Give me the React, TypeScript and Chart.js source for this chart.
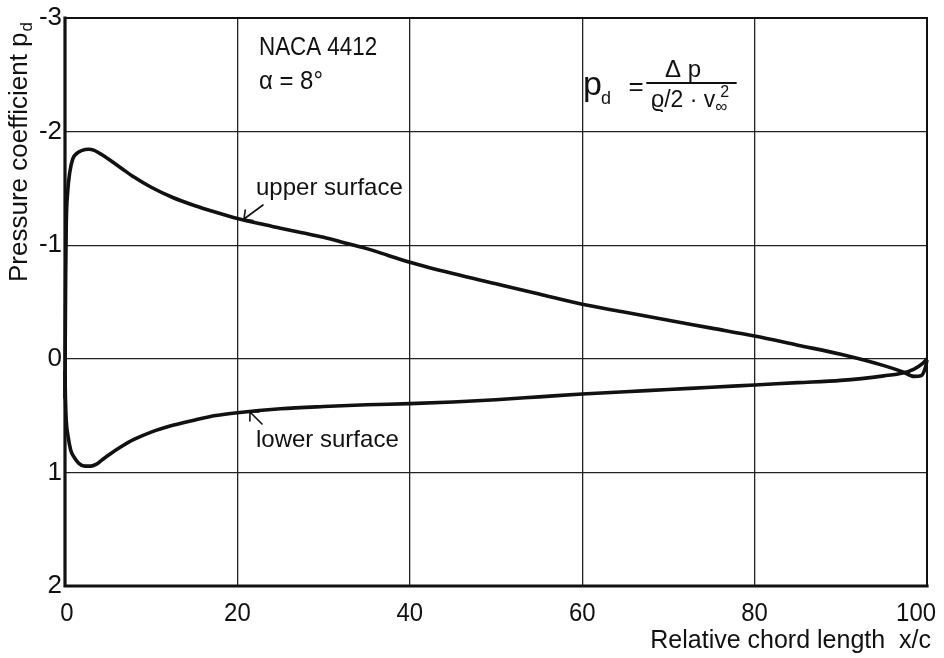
import React, { useEffect, useRef } from "react";
import { Chart, registerables } from "chart.js";
Chart.register(...registerables);

const upperX = [0, 0.03, 0.08, 0.15, 0.3, 0.55, 0.9, 1.4, 2.0, 2.7, 3.4, 4.2, 5.2, 6.5, 8, 10, 12.5, 15, 17.5, 20, 22.5, 25, 27.5, 30, 32.5, 35, 37.5, 40, 45, 50, 55, 60, 65, 70, 75, 80, 85, 90, 95, 97.2, 98.5, 99.3, 99.8, 100];
const upperY = [0.35, -0.2, -0.75, -1.2, -1.46, -1.64, -1.76, -1.81, -1.835, -1.845, -1.835, -1.8, -1.75, -1.68, -1.6, -1.51, -1.42, -1.35, -1.29, -1.235, -1.19, -1.15, -1.11, -1.07, -1.02, -0.97, -0.91, -0.85, -0.75, -0.66, -0.57, -0.48, -0.41, -0.34, -0.27, -0.2, -0.12, -0.04, 0.06, 0.115, 0.155, 0.15, 0.08, 0.01];
const lowerX = [0, 0.05, 0.15, 0.35, 0.65, 1.0, 1.6, 2.3, 3.0, 3.6, 4.3, 5.2, 6.5, 8, 10, 12.5, 15, 17.5, 20, 25, 30, 35, 40, 45, 50, 55, 60, 65, 70, 75, 80, 85, 90, 95, 97.2, 98.5, 99.5, 100];
const lowerY = [0.1, 0.35, 0.55, 0.68, 0.8, 0.86, 0.92, 0.945, 0.945, 0.93, 0.89, 0.84, 0.775, 0.71, 0.645, 0.585, 0.54, 0.5, 0.475, 0.44, 0.42, 0.405, 0.395, 0.38, 0.36, 0.335, 0.31, 0.29, 0.27, 0.25, 0.23, 0.21, 0.19, 0.15, 0.125, 0.09, 0.04, 0.0];

const xTickValues = [0, 20, 40, 60, 80, 100];
const yTickValues = [-3, -2, -1, 0, 1, 2];
const xTitle = "Relative chord length  x/c";
const yTitle = "Pressure coefficient p";
const yTitleSub = "d";
const airfoilLabel = "NACA 4412";
const angleLabel = "α = 8°";
const upperLabel = "upper surface";
const lowerLabel = "lower surface";

const FONT = '"Liberation Sans", Arial, sans-serif';
const INK = "#111";

function arrow(ctx: CanvasRenderingContext2D, tx: number, ty: number, fx: number, fy: number) {
  ctx.beginPath();
  ctx.moveTo(fx, fy);
  ctx.lineTo(tx, ty);
  const a = Math.atan2(fy - ty, fx - tx);
  const L = 9;
  for (const d of [-0.8, 0.8]) {
    ctx.moveTo(tx, ty);
    ctx.lineTo(tx + L * Math.cos(a + d), ty + L * Math.sin(a + d));
  }
  ctx.stroke();
}

function narrowText(ctx: CanvasRenderingContext2D, t: string, x: number, y: number, sx: number) {
  ctx.save();
  ctx.translate(x, y);
  ctx.scale(sx, 1);
  ctx.fillText(t, 0, 0);
  ctx.restore();
}

const decorPlugin = {
  id: "decor",
  afterDraw(chart: any) {
    const ctx: CanvasRenderingContext2D = chart.ctx;
    const { left, right, top, bottom } = chart.chartArea;
    const xs = chart.scales.x;
    ctx.save();
    ctx.strokeStyle = INK;
    ctx.fillStyle = INK;
    ctx.lineCap = "square";
    // frame
    ctx.lineWidth = 2;
    ctx.beginPath();
    ctx.moveTo(left, top);
    ctx.lineTo(right, top);
    ctx.lineTo(right, bottom);
    ctx.stroke();
    ctx.lineWidth = 3.2;
    ctx.beginPath();
    ctx.moveTo(left, top);
    ctx.lineTo(left, bottom);
    ctx.lineTo(right, bottom);
    ctx.stroke();

    // x tick labels via scale
    ctx.font = `26px ${FONT}`;
    ctx.textBaseline = "alphabetic";
    ctx.textAlign = "left";
    for (const v of xTickValues) {
      const px = xs.getPixelForValue(v);
      const t = String(v);
      const w = ctx.measureText(t).width * 0.92;
      let x0 = px - w / 2 + (v === 0 ? 2 : 0);
      if (x0 + w > 936) x0 = 936 - w;
      narrowText(ctx, t, x0, 621, 0.92);
    }

    // x title
    ctx.font = `25px ${FONT}`;
    ctx.textAlign = "right";
    ctx.fillText(xTitle, 931, 648);

    // y title rotated
    ctx.save();
    ctx.translate(27, 282);
    ctx.rotate(-Math.PI / 2);
    ctx.textAlign = "left";
    ctx.font = `26px ${FONT}`;
    ctx.fillText(yTitle, 0, 0);
    const wy = ctx.measureText(yTitle).width;
    ctx.font = `17px ${FONT}`;
    ctx.fillText(yTitleSub, wy + 1, 5);
    ctx.restore();

    // NACA label
    ctx.textAlign = "left";
    ctx.font = `26px ${FONT}`;
    narrowText(ctx, airfoilLabel, 259, 55, 0.86);
    narrowText(ctx, angleLabel, 259, 89, 0.92);

    // surface labels
    ctx.font = `24px ${FONT}`;
    ctx.fillText(upperLabel, 256, 195);
    ctx.fillText(lowerLabel, 256, 447);
    ctx.lineWidth = 1.6;
    ctx.lineCap = "round";
    arrow(ctx, 244, 219, 263, 205);
    arrow(ctx, 250, 412, 262, 424);

    // formula
    ctx.font = `34px ${FONT}`;
    ctx.fillText("p", 583, 95);
    const wp = ctx.measureText("p").width;
    ctx.font = `18px ${FONT}`;
    ctx.fillText("d", 583 + wp - 1, 104);
    ctx.font = `26px ${FONT}`;
    ctx.textAlign = "center";
    ctx.fillText("=", 636, 95);
    ctx.lineWidth = 1.8;
    ctx.beginPath();
    ctx.moveTo(647, 83);
    ctx.lineTo(736, 83);
    ctx.stroke();
    ctx.font = `24px ${FONT}`;
    ctx.fillText("Δ p", 683, 77);
    ctx.textAlign = "left";
    const den = "ϱ/2 · v";
    ctx.font = `23px ${FONT}`;
    ctx.fillText(den, 651, 107);
    const wd = ctx.measureText(den).width;
    ctx.font = `17px ${FONT}`;
    ctx.fillText("∞", 651 + wd, 112);
    ctx.font = `16px ${FONT}`;
    ctx.fillText("2", 651 + wd + 5, 97);
    ctx.restore();
  },
};

export default function App() {
  const ref = useRef<HTMLCanvasElement>(null);
  useEffect(() => {
    const canvas = ref.current!;
    const chart = new Chart(canvas, {
      type: "line",
      data: {
        datasets: [
          {
            label: "upper surface",
            data: upperX.map((x, i) => ({ x, y: upperY[i] })),
            borderColor: INK,
            borderWidth: 3.6,
            pointRadius: 0,
            cubicInterpolationMode: "monotone",
            fill: false,
            clip: 4,
          },
          {
            label: "lower surface",
            data: lowerX.map((x, i) => ({ x, y: lowerY[i] })),
            borderColor: INK,
            borderWidth: 3.6,
            pointRadius: 0,
            cubicInterpolationMode: "monotone",
            fill: false,
            clip: 4,
          },
        ],
      },
      options: {
        responsive: false,
        devicePixelRatio: 1,
        animation: false,
        layout: { padding: { left: 0, right: 17, top: 18, bottom: 0 } },
        plugins: { legend: { display: false }, tooltip: { enabled: false } },
        scales: {
          x: {
            type: "linear",
            min: 0,
            max: 100,
            afterBuildTicks: (s: any) => {
              s.ticks = xTickValues.map((v) => ({ value: v }));
            },
            ticks: { display: false },
            grid: { color: "#222", lineWidth: 1.3, drawTicks: false },
            border: { display: false },
            afterFit: (s: any) => {
              s.height = 72;
              s.paddingLeft = 0;
              s.paddingRight = 0;
            },
          },
          y: {
            type: "linear",
            reverse: true,
            min: -3,
            max: 2,
            afterBuildTicks: (s: any) => {
              s.ticks = yTickValues.map((v) => ({ value: v }));
            },
            ticks: { font: { size: 26, family: FONT }, color: INK, padding: 3 },
            grid: { color: "#222", lineWidth: 1.3, drawTicks: false },
            border: { display: false },
            afterFit: (s: any) => {
              s.width = 65;
              s.paddingTop = 0;
              s.paddingBottom = 0;
            },
          },
        },
      },
      plugins: [decorPlugin],
    } as any);
    return () => chart.destroy();
  }, []);
  return (
    <div style={{ position: "absolute", left: 0, top: 0, width: 944, height: 658, background: "#fff" }}>
      <canvas ref={ref} width={944} height={658} style={{ display: "block", width: 944, height: 658 }} />
    </div>
  );
}
